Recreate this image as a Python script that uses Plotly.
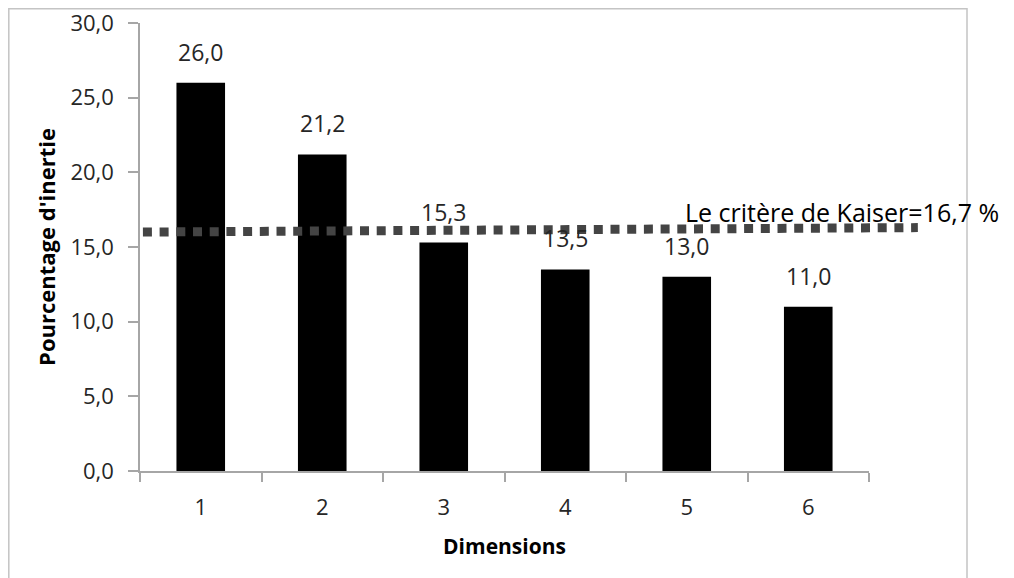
import plotly.graph_objects as go

dimensions = ["1", "2", "3", "4", "5", "6"]
inertie = [26.0, 21.2, 15.3, 13.5, 13.0, 11.0]
y_ticks = [0, 5, 10, 15, 20, 25, 30]
y_max = 30
kaiser_label = "Le critère de Kaiser=16,7 %"
kaiser_line_start = 16.0
kaiser_line_end = 16.3

FONT = "Open Sans"
TXT = "#262626"
AXC = "#a6a6a6"

fig = go.Figure()
fig.add_trace(go.Bar(
    x=dimensions, y=inertie,
    marker=dict(color="#000000", line=dict(width=0)),
    width=0.4,
    hoverinfo="x+y",
))

annotations = []
for i, v in enumerate(inertie):
    annotations.append(dict(
        x=i, y=v, xref="x", yref="y", text=f"{v:.1f}".replace(".", ","),
        showarrow=False, yanchor="bottom", yshift=13,
        font=dict(family=FONT, size=23, color=TXT),
    ))
annotations.append(dict(
    x=(683 - 140) / 729, xref="paper", y=17.35, yref="y", xanchor="left",
    text=kaiser_label, showarrow=False,
    font=dict(family=FONT, size=25, color="#000000"),
))

shapes = [
    dict(type="rect", xref="paper", yref="paper",
         x0=(8.8 - 140) / 729, x1=(967 - 140) / 729,
         y0=-0.4, y1=(471 - 8.8) / 448,
         line=dict(color="#c4c4c4", width=1.5), fillcolor="rgba(0,0,0,0)",
         layer="below"),
    dict(type="line", xref="paper", yref="paper",
         x0=0.004, x1=1.067,
         y0=kaiser_line_start / y_max, y1=kaiser_line_end / y_max,
         line=dict(color="#444444", width=9, dash="9px,7.7px")),
]

# page body has an 8px margin: figure is 1006x570, placed at (8, 8)
fig.update_layout(
    width=1006, height=570,
    margin=dict(l=132, r=145, t=15, b=107, autoexpand=False),
    paper_bgcolor="white", plot_bgcolor="white",
    separators=", ",
    showlegend=False,
    font=dict(family=FONT, size=22, color=TXT),
    annotations=annotations,
    shapes=shapes,
    xaxis=dict(
        type="category", tickson="boundaries", range=[-0.5, 5.5],
        automargin=False,
        showline=True, linecolor=AXC, linewidth=1.5,
        ticks="outside", ticklen=9, tickcolor=AXC, tickwidth=1.5,
        showgrid=False, zeroline=False,
        tickfont=dict(family=FONT, size=22, color=TXT),
        ticklabelstandoff=16,
        title=dict(text="<b>Dimensions</b>", standoff=19,
                   font=dict(family=FONT, size=21, color="#000000")),
    ),
    yaxis=dict(
        range=[0, y_max], tickvals=y_ticks, tickformat=".1f",
        automargin=False,
        showline=True, linecolor=AXC, linewidth=1.5,
        ticks="outside", ticklen=10, tickcolor=AXC, tickwidth=1.5,
        showgrid=False, zeroline=False,
        ticklabeloverflow="allow",
        tickfont=dict(family=FONT, size=22, color=TXT),
        ticklabelstandoff=10,
        title=dict(text="<b>Pourcentage d'inertie</b>", standoff=9,
                   font=dict(family=FONT, size=22, color="#000000")),
    ),
)

fig.write_html("out.html")
